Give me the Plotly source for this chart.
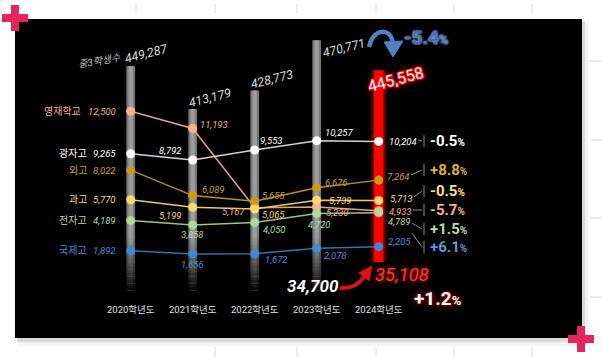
import plotly.graph_objects as go

# ---------------- data ----------------
years = ["2020학년도", "2021학년도", "2022학년도", "2023학년도", "2024학년도"]
students = [449287, 413179, 428773, 470771, 445558]   # 중3학생수

gifted = [12500, 11193, 5167, 5230, 4933]    # 영재학교
gwangja = [9265, 8792, 9553, 10257, 10204]   # 광자고
foreign = [8022, 6089, 5655, 6676, 7264]     # 외고
science = [5770, 5199, 5065, 5739, 5713]     # 과고
elec = [4189, 3858, 4050, 4720, 4789]        # 전자고
intl = [1892, 1656, 1672, 2078, 2205]        # 국제고

series_names = ["영재학교", "광자고", "외고", "과고", "전자고", "국제고"]
series_values = [gifted, gwangja, foreign, science, elec, intl]

# ---------------- layout calibration (pixels) ----------------
W, H = 602, 357
X0_PX, X_STEP = 130.7, 62.0                 # x pixel of first category, spacing
LINE_PY0, LINE_K = 275.7, 0.013158          # line scale: py = PY0 - K*v
BAR_V0, BAR_PY0, BAR_K = 441513.6, 75.2, 0.0011958   # bar scale

def bar_v(py):
    return BAR_V0 + (BAR_PY0 - py) / BAR_K

def bar_py(v):
    return BAR_PY0 - BAR_K * (v - BAR_V0)

def px2x(px):
    return px / W

def py2y(py):
    return 1 - py / H

FONT = "Roboto, Noto Sans CJK KR, sans-serif"
VAL_SIZE = 9.5

styles = {
    "영재학교": dict(line="#e3a47a", dot="#f7b488", text="#f4b183", pct="#f4b183"),
    "광자고": dict(line="#d4d4d4", dot="#ffffff", text="#ffffff", pct="#ffffff"),
    "외고": dict(line="#b8911c", dot="#c99b12", text="#c9a227", pct="#e0b12f"),
    "과고": dict(line="#f0cb5c", dot="#ffd966", text="#f6d986", pct="#ffe07a"),
    "전자고": dict(line="#9cc482", dot="#b0d896", text="#b9d9a0", pct="#b9dd9f"),
    "국제고": dict(line="#2e75b6", dot="#3f8ad6", text="#4a8fd6", pct="#5b9bd5"),
}

# label placement per series/year: (xanchor, dx px, dy px)
label_offsets = {
    "영재학교": [("right", -13, 0), ("left", 5, -4), ("right", -8, 4), ("left", 7, 6), ("left", 8, 1)],
    "광자고": [("right", -13, 0), ("right", -9, -10), ("left", 3, -10), ("left", 6, -8), ("left", 8, 0)],
    "외고": [("right", -13, 0), ("left", 7, -6), ("left", 5, -6), ("left", 6, -5), ("left", 6, -4)],
    "과고": [("right", -13, 0), ("right", -9, 8), ("left", 5, 5), ("left", 10, 0), ("left", 9, -2)],
    "전자고": [("right", -13, 0), ("center", 0, 10), ("left", 6, 7), ("center", 3, 11), ("left", 7, 9)],
    "국제고": [("right", -13, 0), ("center", 0, 11), ("left", 8, 6), ("left", 5, 7), ("left", 7, -5)],
}
# percent labels: (label py, value-label py at 2024)
pct_pos = {
    "광자고": (141, 140), "외고": (170, 175), "과고": (191, 197),
    "영재학교": (210, 210), "전자고": (229, 223), "국제고": (247, 233),
}
# student label offsets relative to bar tops (dx, dy)
stu_offsets = [(15, -13), (17, -12), (17, -12), (27, 7), (17, 9)]

X = list(range(len(years)))
fig = go.Figure()

# ---------------- bars ----------------
base_gray = bar_v(293)
base_red = bar_v(262)
gx = X[:4]
fig.add_trace(go.Bar(x=gx, y=[students[i] - base_gray for i in gx], base=base_gray,
                     width=0.14, marker=dict(color="#787878", line=dict(width=0)), hoverinfo="skip"))
fig.add_trace(go.Bar(x=gx, y=[students[i] - base_gray for i in gx], base=base_gray,
                     width=0.07, marker=dict(color="#9c9c9c", line=dict(width=0)), hoverinfo="skip"))
# fade gray bars into the black background
N = 16
f_top, f_bot = 238.0, 294.0
step = (f_bot - f_top) / N
for k in range(N):
    p0 = f_top + k * step
    p1 = p0 + step
    lo, hi = bar_v(p1), bar_v(p0)
    fig.add_trace(go.Bar(x=gx, y=[hi - lo] * len(gx), base=lo, width=0.2,
                         marker=dict(color="#000000", opacity=min(1.0, ((k + 1) / N) ** 1.1), line=dict(width=0)),
                         hoverinfo="skip"))
# red 2024 bar with glow
for w, c in [(0.26, "rgba(220,0,0,0.22)"), (0.2, "rgba(255,0,0,0.35)"), (0.15, "#ff0000")]:
    fig.add_trace(go.Bar(x=[4], y=[students[4] - base_red], base=base_red, width=w,
                         marker=dict(color=c, line=dict(width=0)), hoverinfo="skip"))

# ---------------- lines ----------------
for name, vals in zip(series_names, series_values):
    st = styles[name]
    fig.add_trace(go.Scatter(x=X, y=vals, yaxis="y2", mode="lines+markers",
                             line=dict(color=st["line"], width=1.5),
                             marker=dict(size=9, color=st["dot"], line=dict(width=0)),
                             hoverinfo="skip"))

ann = []
shapes = []

def est_width(s, size):
    w = 0.0
    for ch in s:
        w += 0.2 if ch == "," else 0.56
    return w * size

def rot_label(cx, cy, text, font, half=20, rise=5):
    # invisible line through (cx, cy); its label follows the line's slant
    return dict(type="line", xref="paper", yref="paper",
                x0=px2x(cx - half), y0=py2y(cy + rise), x1=px2x(cx + half), y1=py2y(cy - rise),
                line=dict(color="rgba(0,0,0,0)", width=1),
                label=dict(text=text, textposition="middle", yanchor="middle", xanchor="center",
                           padding=0, font=font))

# value labels
for name, vals in zip(series_names, series_values):
    st = styles[name]
    for i, v in enumerate(vals):
        anc, dx, dy = label_offsets[name][i]
        ann.append(dict(x=i, y=v, xref="x", yref="y2", text=f"{v:,}", showarrow=False,
                        xanchor=anc, yanchor="middle", xshift=dx, yshift=-dy,
                        font=dict(family=FONT, size=VAL_SIZE, color=st["text"], style="italic")))
    # series name at the left
    name_dx = -13 - est_width(f"{vals[0]:,}", VAL_SIZE) - 6
    ann.append(dict(x=0, y=vals[0], xref="x", yref="y2", text=name, showarrow=False,
                    xanchor="right", yanchor="middle", xshift=name_dx, yshift=0,
                    font=dict(family=FONT, size=10, color=st["text"])))
    # percent change 2023 -> 2024
    pct = (vals[4] / vals[3] - 1) * 100
    p_y, l_y = pct_pos[name]
    ann.append(dict(x=px2x(428), y=py2y(p_y), xref="paper", yref="paper",
                    text=f"<b>{pct:+.1f}</b><span style='font-size:10px'><b>%</b></span>",
                    showarrow=False, xanchor="left", yanchor="middle",
                    font=dict(family=FONT, size=15, color=st["pct"])))
    lab_end = X0_PX + 4 * X_STEP + label_offsets[name][4][1] + est_width(f"{vals[4]:,}", VAL_SIZE)
    x_start = min(lab_end + 3, 420)
    shapes.append(dict(type="line", xref="paper", yref="paper", x0=px2x(x_start), y0=py2y(l_y),
                       x1=px2x(422), y1=py2y(p_y), line=dict(color="#8a8a8a", width=1)))
    shapes.append(dict(type="line", xref="paper", yref="paper", x0=px2x(424), y0=py2y(p_y - 6),
                       x1=px2x(424), y1=py2y(p_y + 6), line=dict(color="#8a8a8a", width=1)))

# student counts on top of bars
for i, v in enumerate(students):
    dx, dy = stu_offsets[i]
    cx = X0_PX + X_STEP * i + dx
    cy = bar_py(v) + dy
    if i == 4:
        f = dict(family=FONT, size=16, color="#ffffff",
                 shadow="1px 1px 0 #ff0000, -1px -1px 0 #ff0000, 1px -1px 0 #ff0000, -1px 1px 0 #ff0000, 0 0 6px #ff0000")
        ann.append(dict(x=i, y=v, xref="x", yref="y", text=f"{v:,}", showarrow=False,
                        xanchor="center", yanchor="middle", xshift=dx, yshift=-dy, textangle=-15, font=f))
    else:
        shapes.append(rot_label(cx, cy, f"<i>{v:,}</i>",
                                dict(family=FONT, size=12.5, color="#d9d9d9")))
shapes.append(rot_label(99, 60, "<i>중3학생수</i>", dict(family=FONT, size=10, color="#bfbfbf"), rise=3.5))

stu_pct = (students[4] / students[3] - 1) * 100
ann.append(dict(x=px2x(426), y=py2y(38), xref="paper", yref="paper",
                text=f"<b>{stu_pct:+.1f}</b><span style='font-size:13px'><b>%</b></span>",
                showarrow=False, xanchor="center", yanchor="middle",
                font=dict(family=FONT, size=19, color="#3f6fb8",
                          shadow="0 0 2px #a9c8ee, 0 0 2px #a9c8ee")))

# totals
tot_prev = sum(v[3] for v in series_values)
tot_now = sum(v[4] for v in series_values)
ann.append(dict(x=px2x(313), y=py2y(286), xref="paper", yref="paper", text=f"<b>{tot_prev:,}</b>",
                showarrow=False, xanchor="center", yanchor="middle",
                font=dict(family=FONT, size=17, color="#ffffff", style="italic")))
ann.append(dict(x=px2x(402), y=py2y(275), xref="paper", yref="paper", text=f"{tot_now:,}",
                showarrow=False, xanchor="center", yanchor="middle",
                font=dict(family=FONT, size=18.5, color="#ff3a3a", style="italic",
                          shadow="0 0 4px #a00000, 0 0 8px #900000")))
tot_pct = (tot_now / tot_prev - 1) * 100
ann.append(dict(x=px2x(438), y=py2y(298), xref="paper", yref="paper",
                text=f"<b>{tot_pct:+.1f}</b><span style='font-size:13px'><b>%</b></span>",
                showarrow=False, xanchor="center", yanchor="middle",
                font=dict(family=FONT, size=19, color="#ffffff",
                          shadow="0 0 3px #d00000, 0 0 6px #a00000")))

# category labels
for i, lab in enumerate(years):
    ann.append(dict(x=i, y=py2y(309), xref="x", yref="paper", text=lab, showarrow=False,
                    xanchor="center", yanchor="middle",
                    font=dict(family=FONT, size=9.5, color="#e0e0e0")))

# ---------------- decoration ----------------
def rect(x0, y0, x1, y1, color):
    return dict(type="rect", xref="paper", yref="paper", x0=px2x(x0), x1=px2x(x1),
                y0=py2y(y1), y1=py2y(y0), fillcolor=color, line=dict(width=0), layer="below")

def pth(cmds, **kw):
    d = ""
    for c in cmds:
        if isinstance(c, str):
            d += c + " "
        else:
            d += f"{px2x(c[0]):.5f},{py2y(c[1]):.5f} "
    return dict(type="path", xref="paper", yref="paper", path=d.strip(), **kw)

deco = []
# light background ticks
for x in [136, 215, 297, 376, 454, 532]:
    deco.append(dict(type="line", xref="paper", yref="paper", x0=px2x(x), x1=px2x(x),
                     y0=py2y(4), y1=py2y(13), line=dict(color="#d6d6d6", width=1), layer="below"))
for x in [215, 297, 376, 454, 532]:
    deco.append(dict(type="line", xref="paper", yref="paper", x0=px2x(x), x1=px2x(x),
                     y0=py2y(347), y1=py2y(357), line=dict(color="#d6d6d6", width=1), layer="below"))
for y in [61, 140, 218, 297]:
    deco.append(dict(type="line", xref="paper", yref="paper", x0=px2x(590), x1=px2x(602),
                     y0=py2y(y), y1=py2y(y), line=dict(color="#d6d6d6", width=1), layer="below"))
# panel shadow + panel
deco.append(rect(18, 22, 588, 346, "rgba(0,0,0,0.05)"))
deco.append(rect(17, 21, 585, 342, "rgba(0,0,0,0.10)"))
deco.append(rect(15, 19, 582, 338, "#000000"))
# pink plus marks
for cx, cy in [(15, 18), (581, 339)]:
    deco.append(rect(cx - 13, cy - 4, cx + 13, cy + 4, "#e8245c"))
    deco.append(rect(cx - 4, cy - 13, cx + 4, cy + 13, "#e8245c"))

# blue curved arrow
shapes.append(pth(["M", (369, 47), "C", (372, 30), (390, 25), (393, 43)],
                  line=dict(color="#4f81c4", width=4.5)))
shapes.append(pth(["M", (384, 42), "L", (403, 41), "L", (393, 57), "Z"],
                  fillcolor="#4f81c4", line=dict(color="#4f81c4", width=1)))
# red curved arrow
shapes.append(pth(["M", (340, 288), "Q", (356, 289), (364, 277)],
                  line=dict(color="#e01010", width=4)))
shapes.append(pth(["M", (359, 273), "L", (372, 266), "L", (369, 281), "Z"],
                  fillcolor="#e01010", line=dict(color="#e01010", width=1)))

fig.update_layout(
    width=W, height=H, autosize=False, margin=dict(l=0, r=0, t=0, b=0),
    paper_bgcolor="#ffffff", plot_bgcolor="rgba(0,0,0,0)",
    showlegend=False, barmode="overlay",
    xaxis=dict(range=[-X0_PX / X_STEP, (W - X0_PX) / X_STEP], visible=False, fixedrange=True),
    yaxis=dict(range=[bar_v(H), bar_v(0)], visible=False, fixedrange=True),
    yaxis2=dict(range=[(LINE_PY0 - H) / LINE_K, LINE_PY0 / LINE_K], overlaying="y",
                visible=False, fixedrange=True),
    shapes=deco + shapes,
    annotations=ann,
)

fig.write_html("out.html")
